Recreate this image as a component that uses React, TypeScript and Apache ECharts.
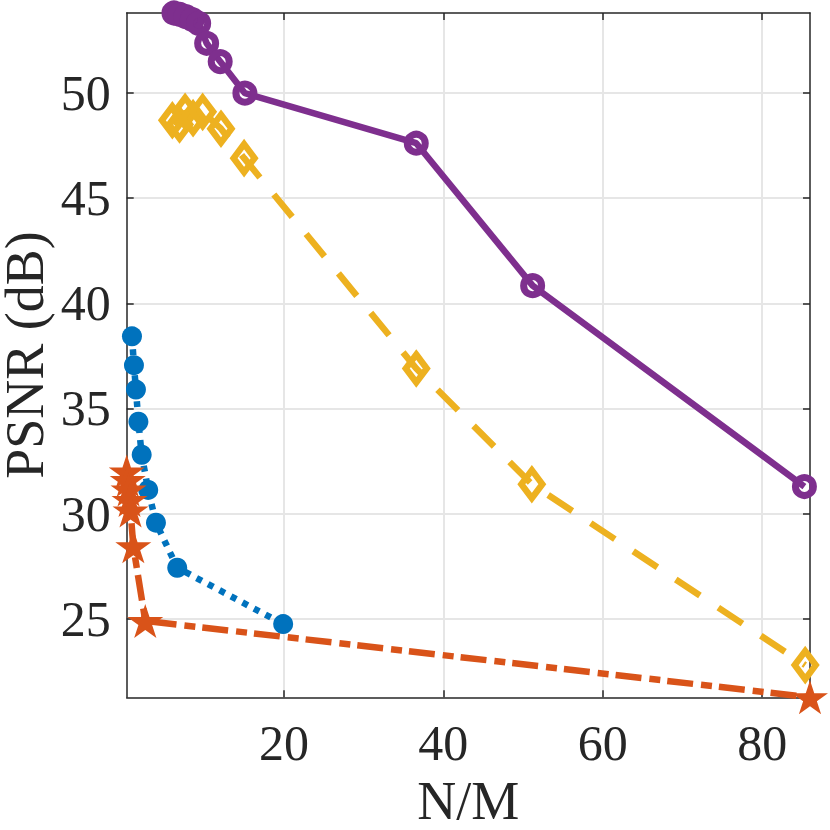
import React, { useEffect, useRef } from "react";
import * as echarts from "echarts";

// Blue (dotted, filled circles)
const blueX = [0.93, 1.18, 1.43, 1.74, 2.15, 2.97, 3.94, 6.61, 19.9];
const blueY = [38.43, 37.06, 35.9, 34.37, 32.8, 31.13, 29.57, 27.43, 24.75];
// Orange (dash-dot, stars)
const orangeX = [0.27, 0.4, 0.5, 0.62, 0.75, 1.1, 2.6, 86.0];
const orangeY = [32.0, 31.6, 31.15, 30.65, 30.15, 28.45, 24.9, 21.27];
// Yellow (dashed, open diamonds)
const yellowX = [6.0, 6.9, 7.6, 8.6, 9.8, 12.1, 15.0, 36.6, 51.1, 85.4];
const yellowY = [48.7, 48.5, 49.1, 48.8, 49.1, 48.3, 46.9, 36.9, 31.4, 22.8];
// Purple (solid, open circles)
const purpleX = [6.2, 6.95, 7.7, 8.5, 9.3, 10.3, 12.0, 15.1, 36.6, 51.2, 85.3];
const purpleY = [53.8, 53.73, 53.63, 53.49, 53.31, 52.36, 51.49, 49.99, 47.61, 40.84, 31.29];

const xTicks = [20, 40, 60, 80];
const yTicks = [25, 30, 35, 40, 45, 50];

const STAR =
  "path://M0,-1L0.2245,-0.309L0.9511,-0.309L0.3633,0.118L0.5878,0.809L0,0.382L-0.5878,0.809L-0.3633,0.118L-0.9511,-0.309L-0.2245,-0.309Z";

const FONT = "'Liberation Serif', 'Times New Roman', serif";
const TXT = "#262626";

const pairs = (xs: number[], ys: number[]) => xs.map((x, i) => [x, ys[i]]);

export default function App() {
  const ref = useRef<HTMLDivElement>(null);
  useEffect(() => {
    document.body.style.margin = "0";
    const chart = echarts.init(ref.current!, null, { renderer: "svg" });
    const allX = [...blueX, ...orangeX, ...yellowX, ...purpleX];
    const allY = [...blueY, ...orangeY, ...yellowY, ...purpleY];
    const xmin = Math.min(...allX);
    const xmax = Math.max(...allX);
    const ymin = Math.min(...allY);
    const ymax = Math.max(...allY);

    const axisLine = { show: true, lineStyle: { color: TXT, width: 1.5 } };
    const tickStyle = (vals: number[]) => ({
      show: true,
      inside: true,
      length: 7,
      customValues: vals,
      lineStyle: { color: TXT, width: 1.5 },
    });

    chart.setOption({
      animation: false,
      grid: {
        left: 126.7,
        top: 13,
        right: 20,
        bottom: 132.7,
        containLabel: false,
        outerBoundsMode: "none",
      },
      graphic: [
        {
          type: "text",
          x: 25,
          y: 355,
          rotation: Math.PI / 2,
          style: {
            text: "PSNR (dB)",
            fontFamily: FONT,
            fontSize: 54,
            fill: TXT,
            align: "center",
            verticalAlign: "middle",
          },
        },
      ],
      xAxis: [
        {
          type: "value",
          min: xmin,
          max: xmax,
          position: "bottom",
          axisLine,
          axisTick: tickStyle(xTicks),
          axisLabel: {
            customValues: xTicks,
            fontFamily: FONT,
            fontSize: 50,
            color: TXT,
            margin: 21,
          },
          splitLine: { show: true, lineStyle: { color: "#e6e6e6", width: 2 } },
          name: "N/M",
          nameLocation: "middle",
          nameGap: 82,
          nameTextStyle: {
            fontFamily: FONT,
            fontSize: 54,
            color: TXT,
            lineHeight: 44,
          },
        },
        {
          type: "value",
          min: xmin,
          max: xmax,
          position: "top",
          axisLine,
          axisTick: tickStyle(xTicks),
          axisLabel: { show: false, customValues: xTicks },
          splitLine: { show: false },
        },
      ],
      yAxis: [
        {
          type: "value",
          min: ymin,
          max: ymax,
          position: "left",
          axisLine,
          axisTick: tickStyle(yTicks),
          axisLabel: {
            customValues: yTicks,
            fontFamily: FONT,
            fontSize: 50,
            color: TXT,
            margin: 16,
          },
          splitLine: { show: true, lineStyle: { color: "#e6e6e6", width: 2 } },
        },
        {
          type: "value",
          min: ymin,
          max: ymax,
          position: "right",
          axisLine,
          axisTick: tickStyle(yTicks),
          axisLabel: { show: false, customValues: yTicks },
          splitLine: { show: false },
        },
      ],
      series: [
        {
          type: "line",
          data: pairs(blueX, blueY),
          clip: false,
          symbol: "circle",
          symbolSize: 20,
          lineStyle: { color: "#0072BD", width: 6.5, type: [6, 7] },
          itemStyle: { color: "#0072BD", borderWidth: 0 },
          z: 2,
        },
        {
          type: "line",
          data: pairs(orangeX, orangeY),
          clip: false,
          symbol: STAR,
          symbolSize: [36, 34],
          lineStyle: { color: "#D95319", width: 6.5, type: [26, 8, 11, 7] },
          itemStyle: { color: "#D95319", borderWidth: 0 },
          z: 3,
        },
        {
          type: "line",
          data: pairs(yellowX, yellowY),
          clip: false,
          symbol: "diamond",
          symbolSize: [21, 28],
          lineStyle: { color: "#EDB120", width: 6.5, type: [29, 22] },
          itemStyle: {
            color: "rgba(255,255,255,0)",
            borderColor: "#EDB120",
            borderWidth: 6.5,
          },
          z: 4,
        },
        {
          type: "line",
          data: pairs(purpleX, purpleY),
          clip: false,
          symbol: "circle",
          symbolSize: 18,
          lineStyle: { color: "#7E2F8E", width: 6.5, type: "solid" },
          itemStyle: {
            color: "rgba(255,255,255,0)",
            borderColor: "#7E2F8E",
            borderWidth: 7,
          },
          z: 5,
        },
      ],
    });
    return () => chart.dispose();
  }, []);
  return <div ref={ref} style={{ width: 830, height: 830 }} />;
}
